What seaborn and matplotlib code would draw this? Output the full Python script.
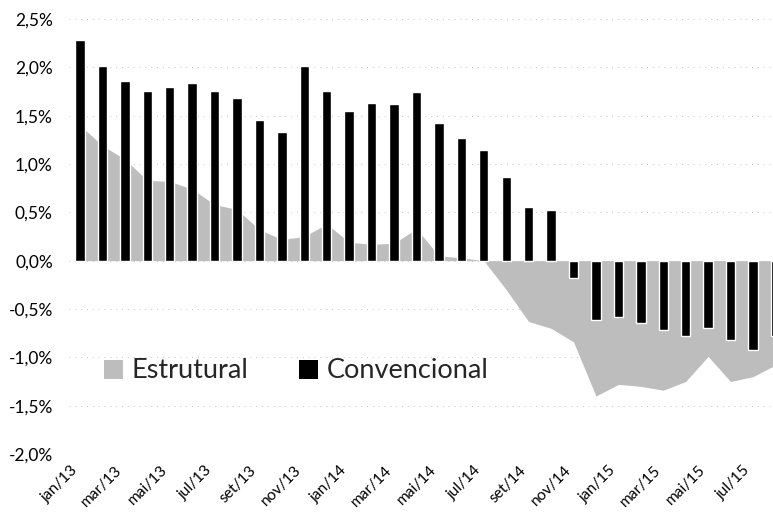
import matplotlib
matplotlib.use("Agg")
import matplotlib.pyplot as plt
from matplotlib.patches import Patch
from matplotlib.ticker import FuncFormatter, MultipleLocator
import numpy as np
import pandas as pd
import seaborn as sns

# Monthly series, Jan/2013 - Aug/2015 (% of GDP)
months = ["jan/13", "fev/13", "mar/13", "abr/13", "mai/13", "jun/13", "jul/13", "ago/13",
          "set/13", "out/13", "nov/13", "dez/13",
          "jan/14", "fev/14", "mar/14", "abr/14", "mai/14", "jun/14", "jul/14", "ago/14",
          "set/14", "out/14", "nov/14", "dez/14",
          "jan/15", "fev/15", "mar/15", "abr/15", "mai/15", "jun/15", "jul/15", "ago/15"]

convencional = [2.28, 2.01, 1.86, 1.76, 1.80, 1.84, 1.76, 1.68, 1.46, 1.33, 2.01, 1.76,
                1.55, 1.63, 1.62, 1.74, 1.42, 1.27, 1.14, 0.87, 0.56, 0.52, -0.18, -0.61,
                -0.58, -0.64, -0.72, -0.78, -0.70, -0.82, -0.92, -0.78]

estrutural = [1.40, 1.19, 1.05, 0.83, 0.82, 0.74, 0.58, 0.53, 0.32, 0.22, 0.25, 0.38,
              0.19, 0.17, 0.18, 0.33, 0.05, 0.03, 0.00, -0.30, -0.63, -0.70, -0.84, -1.40,
              -1.28, -1.30, -1.34, -1.25, -0.99, -1.25, -1.20, -1.08]

series_names = ["Estrutural", "Convencional"]

df = pd.DataFrame({"mes": months, "convencional": convencional, "estrutural": estrutural})

sns.set_theme(style="white")
plt.rcParams["font.family"] = ["Lato", "DejaVu Sans"]

AREA_GRAY = "#bdbdbd"

fig = plt.figure(figsize=(7.73, 5.13), dpi=100)
ax = fig.add_axes([0.089, 0.115, 0.9286, 0.848])

# structural balance as a filled area behind the bars
pos = np.arange(len(df))
ax.fill_between(pos, 0, df["estrutural"], color=AREA_GRAY, linewidth=0, zorder=1)

# conventional balance as bars
sns.barplot(data=df, x="mes", y="convencional", color="black", width=0.42,
            saturation=1, ax=ax, zorder=2)

ax.set_xlim(-0.5, len(df) - 0.5)
ax.set_ylim(-2.0, 2.5)
ax.yaxis.set_major_locator(MultipleLocator(0.5))
ax.yaxis.set_major_formatter(FuncFormatter(lambda v, _: f"{v:.1f}%".replace(".", ",")))

ax.grid(axis="y", color="#c4c4c4", linestyle=(0, (1, 5)), linewidth=0.7, zorder=0)
ax.set_axisbelow(True)

ax.set_xticks(pos[::2])
ax.set_xticklabels(months[::2], rotation=45, ha="right", rotation_mode="default")
ax.tick_params(axis="x", length=0, pad=6.5, labelsize=11.2, colors="#000000")
ax.tick_params(axis="y", length=0, pad=11.5, labelsize=12.5, colors="#000000")
ax.set_xlabel("")
ax.set_ylabel("")
for s in ax.spines.values():
    s.set_visible(False)

handles = [Patch(facecolor=AREA_GRAY, edgecolor="none"),
           Patch(facecolor="black", edgecolor="none")]
fig.legend(handles, series_names, loc="center left",
           bbox_to_anchor=(104 / 773, 1 - 371 / 513), ncol=2, frameon=False,
           fontsize=19.5, handlelength=0.7, handleheight=0.7, handletextpad=0.3,
           columnspacing=1.9, borderpad=0, borderaxespad=0)

fig.savefig("out.png", dpi=100)
